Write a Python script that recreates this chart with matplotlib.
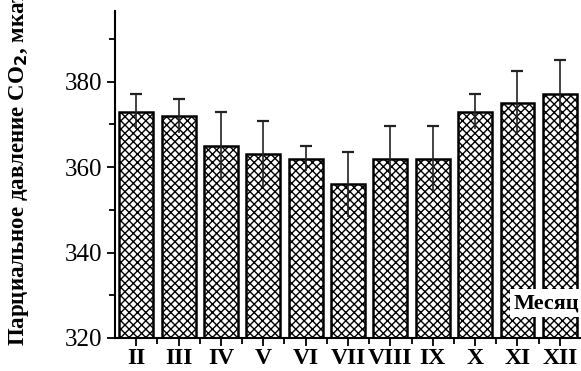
import numpy as np
import matplotlib
matplotlib.use("Agg")
import matplotlib.pyplot as plt

months = ["II", "III", "IV", "V", "VI", "VII", "VIII", "IX", "X", "XI", "XII"]
pco2 = [373, 372, 365, 363, 362, 356, 362, 362, 373, 375, 377]
err = [4, 4, 7.8, 7.7, 3, 7.6, 7.6, 7.6, 4, 7.6, 8]

plt.rcParams['font.family'] = ['Liberation Serif', 'DejaVu Serif']
plt.rcParams['hatch.linewidth'] = 1.0

fig = plt.figure(figsize=(5.81, 3.71), dpi=100)
ax = fig.add_axes([0.198, 0.089, 0.802, 0.881])

x = np.arange(1, len(months) + 1)
ax.bar(x, pco2, width=0.8, color="white", edgecolor="black", linewidth=1.8,
       hatch="xxxx", zorder=2)
ax.errorbar(x, pco2, yerr=err, fmt="none", ecolor="#222222", elinewidth=1.2,
            capsize=0, zorder=3)
ax.plot(x, np.array(pco2) + np.array(err), ls="none", marker="_",
        ms=8, mew=1.6, color="#222222", zorder=3)

ax.set_xlim(0.5, 11.5)
ax.set_ylim(320, 396.5)
ax.set_yticks([320, 340, 360, 380])
ax.set_yticks([330, 350, 370, 390], minor=True)
ax.set_xticks(x)
ax.set_xticklabels(months, fontsize=17, fontweight="bold")
ax.set_xticks(x[:-1] + 0.5, minor=True)
ax.tick_params(axis="y", labelsize=18, width=1.3, length=6)
ax.tick_params(axis="y", which="minor", width=1.3, length=4)
ax.tick_params(axis="x", width=1.3, length=6, pad=1.5)
ax.tick_params(axis="x", which="minor", width=1.3, length=4)

for s in ["top", "right"]:
    ax.spines[s].set_visible(False)
for s in ["left", "bottom"]:
    ax.spines[s].set_linewidth(1.5)

ax.set_ylabel("Парциальное давление CO$_\\mathbf{2}$, мкатм", fontsize=16.5,
              fontweight="bold")
ax.yaxis.set_label_coords(-0.18, 0.545)

ax.text(0.997, 0.107, "Месяц", transform=ax.transAxes, ha="right", va="center",
        fontsize=16, fontweight="bold",
        bbox=dict(facecolor="white", edgecolor="none", pad=3), zorder=5)

fig.savefig("out.png", dpi=100)
